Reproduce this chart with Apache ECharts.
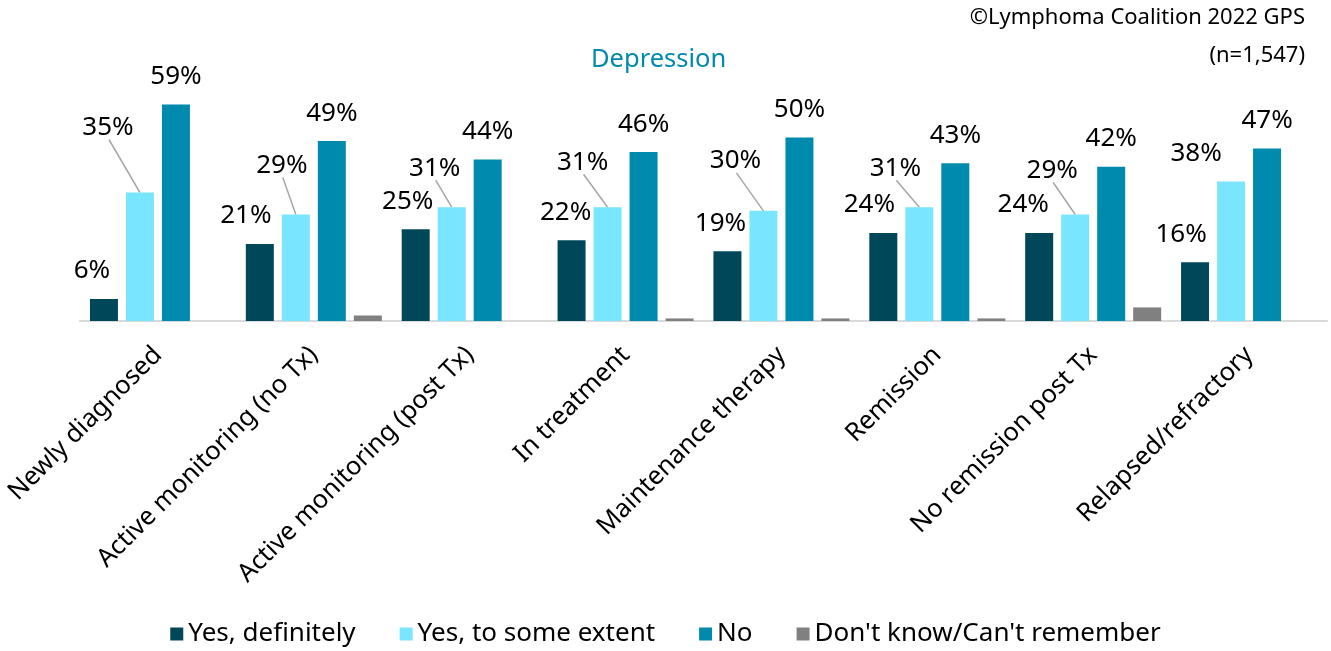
<!DOCTYPE html>
<html>
<head>
<meta charset="utf-8">
<script src="https://cdn.jsdelivr.net/npm/echarts@6/dist/echarts.min.js"></script>
<style>
  html, body { margin: 0; padding: 0; background: #fff; }
  #chart { width: 1331px; height: 651px; }
</style>
</head>
<body>
<div id="chart"></div>
<script>
// ---- data ----
var categories = ['Newly diagnosed', 'Active monitoring (no Tx)', 'Active monitoring (post Tx)', 'In treatment', 'Maintenance therapy', 'Remission', 'No remission post Tx', 'Relapsed/refractory'];
var seriesNames = ['Yes, definitely', 'Yes, to some extent', 'No', "Don't know/Can't remember"];
var yesDefinitely = [6, 21, 25, 22, 19, 24, 24, 16];
var yesSomeExtent = [35, 29, 31, 31, 30, 31, 29, 38];
var noValues = [59, 49, 44, 46, 50, 43, 42, 47];
var dontKnow = [0, 1.5, 0, 0.7, 0.7, 0.7, 3.7, 0];

// ---- styles ----
var colors = ['#00475A', '#7AE5FF', '#008AAD', '#808080'];
var FONT = 'Noto Sans';
var BAR_W = 28, BAR_GAP = 8;
var LABEL_DIST = 15;
// label offsets (px) for "Yes, definitely"
var yesDefDx = [-12, -14, -8, -6, -7, -14, -16, -14];
// label offsets (px) for "Yes, to some extent"
var someDx = [-32, -14, -17, -25, -28, -24, -23, -35];
var someDy = [-37, -21, -11, -17, -22, -11, -16, 0];

function pct(v) { return Math.round(v) + '%'; }

var labelBase = { show: true, position: 'top', distance: LABEL_DIST, color: '#000', fontFamily: FONT, fontSize: 26, formatter: function (p) { return pct(p.value); } };

var defData = yesDefinitely.map(function (v, i) { return { value: v, label: { offset: [yesDefDx[i], 0] } }; });
var someData = yesSomeExtent.map(function (v, i) { return { value: v, label: { offset: [someDx[i], someDy[i]] } }; });

// offset of the 2nd bar centre from the category centre
var groupW = 4 * BAR_W + 3 * BAR_GAP;
var someBarOffset = -groupW / 2 + BAR_W + BAR_GAP + BAR_W / 2;

var chart = echarts.init(document.getElementById('chart'), null, { renderer: 'canvas' });
chart.setOption({
  animation: false,
  color: colors,
  title: [
    { text: 'Depression', left: 586, top: 42, textStyle: { color: '#0089AD', fontFamily: FONT, fontSize: 25.5, fontWeight: 'normal' } },
    { text: '\u00A9Lymphoma Coalition 2022 GPS', right: 21, top: 2, textStyle: { color: '#000', fontFamily: FONT, fontSize: 22, fontWeight: 'normal' } },
    { text: '(n=1,547)', right: 21, top: 40, textStyle: { color: '#000', fontFamily: FONT, fontSize: 22, fontWeight: 'normal' } }
  ],
  legend: {
    data: seriesNames,
    bottom: -1,
    left: 'center',
    itemWidth: 13, itemHeight: 13, itemGap: 44,
    icon: 'rect',
    textStyle: { color: '#000', fontFamily: FONT, fontSize: 26 }
  },
  grid: { left: 80, right: 4, top: 64, bottom: 330, containLabel: false },
  xAxis: {
    type: 'category',
    data: categories,
    axisTick: { show: false },
    axisLine: { lineStyle: { color: '#D9D9D9', width: 2 } },
    axisLabel: { rotate: 45, interval: 0, color: '#000', fontFamily: FONT, fontSize: 25.5, margin: 30 }
  },
  yAxis: { type: 'value', min: 0, max: 70, show: false, splitLine: { show: false } },
  series: [
    { name: seriesNames[0], type: 'bar', barWidth: BAR_W, barGap: (BAR_GAP / BAR_W * 100) + '%', data: defData, label: labelBase },
    { name: seriesNames[1], type: 'bar', barWidth: BAR_W, data: someData, label: labelBase },
    { name: seriesNames[2], type: 'bar', barWidth: BAR_W, data: noValues, label: labelBase },
    { name: seriesNames[3], type: 'bar', barWidth: BAR_W, data: dontKnow, label: { show: false } },
    {
      name: 'leader', type: 'custom', silent: true, z: 1,
      data: yesSomeExtent.map(function (v, i) { return [i, v]; }),
      renderItem: function (params, api) {
        var i = api.value(0);
        if (someDy[i] === 0) return null;
        var p = api.coord([i, api.value(1)]);
        var bx = p[0] + someBarOffset, by = p[1];
        var lx = bx + someDx[i] + 1;
        var ly = by - LABEL_DIST + someDy[i] - 1;
        return { type: 'line', shape: { x1: lx, y1: ly, x2: bx, y2: by }, style: { stroke: '#A6A6A6', lineWidth: 1.5 } };
      }
    }
  ]
});
</script>
</body>
</html>
